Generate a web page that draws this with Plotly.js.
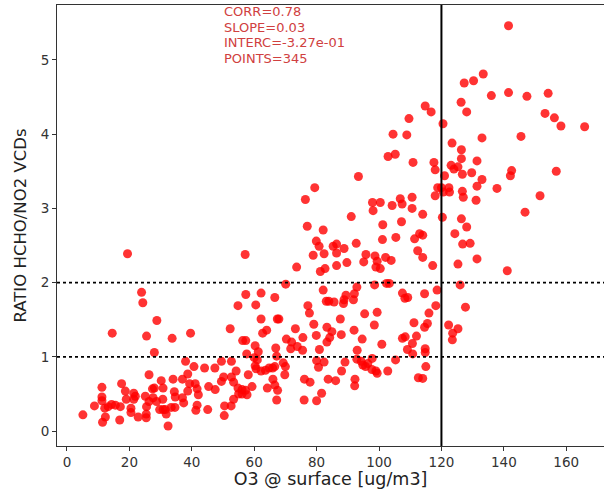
<!DOCTYPE html>
<html>
<head>
<meta charset="utf-8">
<script src="https://cdn.plot.ly/plotly-3.0.1.min.js"></script>
<style>html,body{margin:0;padding:0;background:#fff;}#chart{width:604px;height:489px;}</style>
</head>
<body>
<div id="chart"></div>
<script>
// O3 at surface [ug/m3]
const o3 = [
19.4,23.9,24.3,28.8,14.5,25.5,33.7,39.6,28.0,52.3,54.8,38.0,40.7,44.1,47.4,49.5,52.7,54.2,26.3,17.5,
11.2,30.2,34.0,37.0,38.7,39.3,41.1,45.4,47.5,49.5,50.2,52.7,53.4,54.8,18.7,21.4,19.0,11.2,11.2,14.3,
8.8,12.1,17.1,21.9,21.4,20.5,20.5,22.8,25.4,25.4,25.5,26.3,27.4,28.0,27.6,28.7,30.7,30.8,29.7,30.8,
31.5,33.4,34.6,31.8,32.4,34.4,34.7,37.0,37.4,38.7,41.7,42.1,41.7,41.3,45.1,50.4,50.5,52.6,53.4,55.0,
5.1,11.4,12.3,16.9,15.5,13.2,25.1,
77.0,82.1,79.9,80.8,85.3,86.4,88.8,86.4,82.4,78.9,92.7,57.1,73.6,81.2,82.7,86.4,89.7,95.8,95.1,98.7,
102.1,103.9,99.4,99.0,100.4,101.2,101.1,105.4,111.4,112.4,70.1,98.6,102.4,103.3,92.9,92.1,91.8,89.4,88.8,88.6,
85.6,83.9,83.1,82.1,57.3,62.2,66.6,60.5,77.2,77.7,95.4,99.4,98.5,107.5,109.2,108.3,111.2,112.0,87.6,79.1,
62.2,67.4,67.9,64.0,62.7,83.3,84.9,87.9,92.0,79.9,84.2,83.3,73.2,75.6,70.3,72.0,71.7,73.8,75.5,80.9,
93.0,94.6,100.9,107.5,108.4,110.7,109.1,110.8,56.3,57.3,60.3,57.6,61.3,66.9,67.2,60.0,60.3,60.6,62.2,63.6,
64.8,65.9,66.6,69.3,70.0,69.8,58.1,66.0,66.6,67.5,64.2,67.2,56.1,57.2,57.7,56.1,59.3,76.0,80.0,81.6,
76.1,77.9,80.0,80.6,82.4,83.7,86.1,88.0,89.1,92.3,92.2,92.9,94.3,94.8,95.7,96.4,97.8,97.7,99.0,99.4,
102.8,105.3,112.6,61.0,
128.1,124.3,126.8,129.2,114.0,113.0,114.0,117.2,125.3,131.4,141.1,126.0,118.6,114.6,127.7,118.2,116.0,115.5,114.6,122.3,
125.3,123.6,123.5,114.8,114.8,115.0,114.0,
141.5,133.4,130.3,127.3,136.0,141.5,147.4,154.2,126.3,128.1,153.2,156.2,158.3,165.9,114.8,116.7,120.5,133.0,145.5,123.4,
126.4,126.4,131.4,117.6,118.0,123.1,125.3,124.0,126.7,129.7,121.0,133.0,142.5,142.1,156.8,118.8,120.0,122.4,120.6,122.6,
118.0,126.7,127.0,131.4,131.1,137.8,151.6,146.8,114.0,120.3,126.4,
109.6,104.5,108.9,102.9,105.2,110.9,93.4,79.4,76.4,97.9,100.4,98.1,104.2,106.8,107.4,110.6,110.6,91.1,107.2
];
// RATIO HCHO/NO2 VCDs
const ratio = [
2.39,1.87,1.73,1.49,1.32,1.28,1.25,1.32,1.06,1.38,1.69,0.94,0.87,0.85,0.85,0.94,0.94,0.81,0.76,0.64,
0.59,0.68,0.70,0.70,0.77,0.64,0.64,0.60,0.56,0.67,0.73,0.73,0.66,0.58,0.54,0.51,0.43,0.46,0.41,0.36,
0.34,0.31,0.33,0.47,0.43,0.31,0.25,0.19,0.23,0.18,0.33,0.40,0.57,0.58,0.45,0.40,0.43,0.58,0.29,0.29,
0.29,0.32,0.32,0.23,0.07,0.53,0.46,0.45,0.38,0.54,0.57,0.49,0.35,0.28,0.29,0.21,0.34,0.34,0.43,0.50,
0.22,0.12,0.19,0.15,0.35,0.33,0.47,
2.76,2.71,2.56,2.49,2.49,2.52,2.46,2.40,2.39,2.37,2.53,2.38,2.21,2.15,2.19,2.23,2.27,2.38,2.28,2.36,
2.34,2.30,2.29,2.21,2.19,2.78,2.58,2.61,2.59,2.43,1.98,1.97,1.99,1.99,1.94,1.85,1.77,1.83,1.77,1.72,
1.74,1.75,1.75,1.90,1.84,1.86,1.80,1.70,1.69,1.59,1.58,1.60,1.43,1.86,1.80,1.79,1.46,1.28,1.51,1.44,
1.51,1.51,1.51,1.36,1.32,1.40,1.34,1.30,1.36,1.29,1.26,1.20,1.38,1.26,1.24,1.20,1.11,1.14,1.09,1.10,
1.09,1.24,1.17,1.25,1.27,1.18,1.10,1.04,1.22,1.22,1.15,1.04,1.07,1.12,1.01,0.99,0.88,0.84,0.81,0.82,
0.85,0.85,0.87,0.92,0.87,0.76,0.76,0.70,0.62,0.55,0.58,0.42,0.56,0.55,0.49,0.50,0.60,0.42,0.41,0.51,
0.70,0.66,0.95,0.86,0.93,0.70,0.68,0.81,0.93,0.70,0.61,0.97,0.94,0.89,0.87,0.91,0.98,0.83,0.81,0.78,
0.81,0.96,0.72,0.96,
2.75,2.66,2.52,2.53,2.64,2.66,2.34,2.23,2.25,2.32,2.16,1.97,1.90,1.85,1.67,1.69,1.59,1.45,1.40,1.43,
1.38,1.32,1.23,1.11,1.06,0.87,0.71,
5.46,4.81,4.72,4.69,4.52,4.56,4.51,4.55,4.43,4.30,4.28,4.22,4.11,4.10,4.38,4.30,4.14,3.95,3.97,3.88,
3.79,3.67,3.64,3.62,3.52,3.58,3.56,3.53,3.46,3.48,3.44,3.39,3.51,3.44,3.50,3.28,3.28,3.28,3.22,3.22,
3.17,3.23,3.15,3.30,3.11,3.27,3.17,2.95,2.92,2.88,2.86,
4.21,4.00,3.99,3.70,3.73,3.62,3.43,3.28,3.12,3.08,3.08,2.97,3.04,3.13,3.06,3.15,3.00,2.89,2.82
];
const statLines = ["CORR=0.78", "SLOPE=0.03", "INTERC=-3.27e-01", "POINTS=345"];
const xTicks = [0, 20, 40, 60, 80, 100, 120, 140, 160];
const yTicks = [0, 1, 2, 3, 4, 5];
const thresholdRatios = [1, 2];
const thresholdO3 = 120;

const trace = {
  x: o3, y: ratio, type: 'scatter', mode: 'markers',
  marker: {color: 'rgb(255,0,0)', opacity: 0.8, size: 9, line: {width: 0}},
  hoverinfo: 'x+y'
};

const shapes = thresholdRatios.map(v => ({
  type: 'line', xref: 'paper', x0: 0, x1: 1, yref: 'y', y0: v, y1: v,
  line: {color: 'black', width: 1.6, dash: 'dot'}
}));
shapes.push({
  type: 'line', xref: 'x', x0: thresholdO3, x1: thresholdO3, yref: 'paper', y0: 0, y1: 1,
  line: {color: 'black', width: 2}
});

const statY = [0.9853, 0.9499, 0.9145, 0.8791];
const annotations = statLines.map((t, i) => ({
  text: t, xref: 'x', x: 50, xanchor: 'left', yref: 'paper', y: statY[i], yanchor: 'middle',
  showarrow: false, borderpad: 0, font: {family: 'DejaVu Sans', size: 13, color: '#d04040'}
}));

const axisCommon = {
  showgrid: false, zeroline: false, showline: true, linecolor: '#333', linewidth: 1,
  ticks: 'outside', ticklen: 4, tickcolor: '#333', tickwidth: 1,
  tickfont: {family: 'DejaVu Sans', size: 13.5, color: '#333'}
};

const layout = {
  width: 604, height: 489,
  margin: {l: 57, r: 0, t: 5, b: 43, pad: 0},
  paper_bgcolor: 'white', plot_bgcolor: 'white',
  showlegend: false,
  xaxis: Object.assign({}, axisCommon, {
    range: [-3.2, 172.1], tickvals: xTicks, ticktext: xTicks.map(String), mirror: true,
    title: {text: 'O3 @ surface [ug/m3]', font: {family: 'DejaVu Sans', size: 17.5, color: '#222'}, standoff: 2}
  }),
  yaxis: Object.assign({}, axisCommon, {
    range: [-0.2, 5.74], tickvals: yTicks, ticktext: yTicks.map(String),
    title: {text: 'RATIO HCHO/NO2 VCDs', font: {family: 'DejaVu Sans', size: 16.5, color: '#222'}, standoff: 9}
  }),
  shapes: shapes,
  annotations: annotations
};

Plotly.newPlot('chart', [trace], layout, {displayModeBar: false, staticPlot: true});
</script>
</body>
</html>
